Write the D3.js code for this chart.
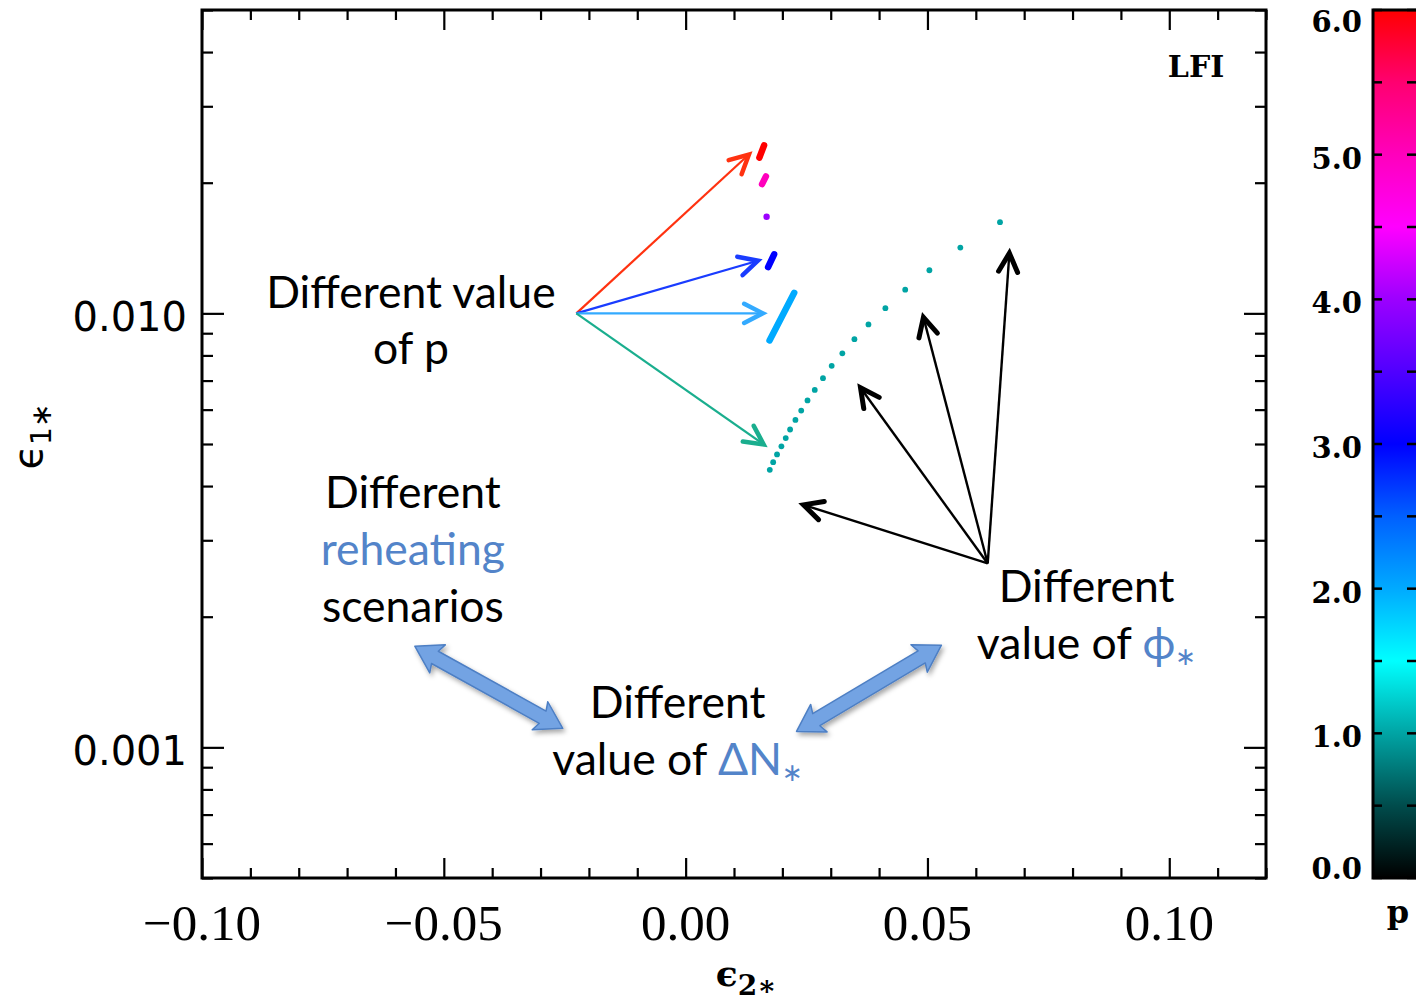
<!DOCTYPE html>
<html><head><meta charset="utf-8">
<script src="https://cdn.jsdelivr.net/npm/d3@7"></script>
<style>body{margin:0;background:#fff;} svg{display:block;}</style>
</head><body>
<svg id="chart" width="1416" height="1002"></svg>
<script>
// ---------------- data ----------------
const xMajorTicks = [-0.10, -0.05, 0.00, 0.05, 0.10];
const xTickLabels = ["\u22120.10", "\u22120.05", "0.00", "0.05", "0.10"];
const yMajorTicks = [0.001, 0.010];
const yTickLabels = ["0.001", "0.010"];
const cbMajorTicks = [0, 1, 2, 3, 4, 5, 6];
const cbTickLabels = ["0.0", "1.0", "2.0", "3.0", "4.0", "5.0", "6.0"];

// colour table (p -> colour)
const cmapStops  = [0, 0.5, 1.0, 1.5, 2.0, 2.5, 3.0, 3.5, 4.0, 4.5, 5.0, 5.5, 6.0];
const cmapColors = ["#000000", "#004c4c", "#00a4a4", "#00ffff", "#00aaff", "#0060ff", "#0000ff",
                    "#5000ff", "#9c00ff", "#ff00ff", "#ff00bc", "#ff0070", "#ff0000"];

// p = 1 : individual points (eps2*, eps1*)
const p1_eps2 = [0.0174, 0.0181, 0.0189, 0.0198, 0.0207, 0.0216, 0.0227, 0.0239, 0.0252, 0.0267,
                 0.0284, 0.0302, 0.0324, 0.0349, 0.0378, 0.0413, 0.0454, 0.0504, 0.0568, 0.0650];
const p1_eps1 = [0.00436, 0.00454, 0.00473, 0.00494, 0.00516, 0.00540, 0.00568, 0.00597, 0.00630, 0.00666,
                 0.00709, 0.00757, 0.00809, 0.00872, 0.00943, 0.01028, 0.01134, 0.01257, 0.01418, 0.01622];
// p = 2..6 : dense point sets (appear as short thick strokes)
const p2_eps2 = [0.01735, 0.02245]; const p2_eps1 = [0.00866, 0.01115];
const p3_eps2 = [0.01705, 0.01830]; const p3_eps1 = [0.01278, 0.01368];
const p4_eps2 = [0.01674];          const p4_eps1 = [0.01670];
const p5_eps2 = [0.01580, 0.01660]; const p5_eps1 = [0.01985, 0.02068];
const p6_eps2 = [0.01525, 0.01622]; const p6_eps1 = [0.02285, 0.02438];

// annotation arrows (data coordinates)
const pArrowOrigin = [-0.0226, 0.0100];
const pArrowTips   = [[0.01308, 0.02323], [0.01494, 0.01322], [0.01597, 0.0100], [0.01612, 0.00499]];
const pArrowColors = ["#ff3210", "#1a3cff", "#33aaff", "#1aae8e"];
const phiArrowOrigin = [0.06246, 0.002653];
const phiArrowTips   = [[0.02438, 0.00362], [0.03616, 0.006737], [0.04917, 0.00979], [0.06694, 0.01376]];
const blockArrows = [[[-0.0560, 0.001710], [-0.02541, 0.001106]], [[0.02293, 0.001088], [0.05289, 0.001720]]];

// ---------------- layout ----------------
const svg = d3.select("#chart");
const plot = {left: 202, top: 10, right: 1266, bottom: 878};
const cbar = {left: 1373, right: 1420};
const x = d3.scaleLinear().domain([-0.10, 0.12]).range([plot.left, plot.right]);
const y = d3.scaleLog().domain([0.0005, 0.05]).range([plot.bottom, plot.top]);
const cb = d3.scaleLinear().domain([0, 6]).range([plot.bottom, plot.top]);
const pColor = d3.scaleLinear().domain(cmapStops).range(cmapColors).interpolate(d3.interpolateRgb);

const defs = svg.append("defs");
const grad = defs.append("linearGradient").attr("id", "cbgrad")
  .attr("x1", 0).attr("y1", 1).attr("x2", 0).attr("y2", 0);
cmapStops.forEach((s, i) => grad.append("stop").attr("offset", s / 6).attr("stop-color", cmapColors[i]));
const filt = defs.append("filter").attr("id", "shadow").attr("x", "-20%").attr("y", "-20%").attr("width", "140%").attr("height", "140%");
filt.append("feDropShadow").attr("dx", 2).attr("dy", 3).attr("stdDeviation", 2.5).attr("flood-color", "#000").attr("flood-opacity", 0.35);

// ---------------- axes ----------------
const tickStroke = 2.2;
function drawTicks(g) { g.select(".domain").remove(); g.selectAll("line").attr("stroke", "#000").attr("stroke-width", tickStroke); g.selectAll("text").remove(); }
const xMinor = x.ticks(22).filter(v => !xMajorTicks.some(m => Math.abs(m - v) < 1e-9));
const yMinor = y.ticks().filter(v => !yMajorTicks.some(m => Math.abs(m - v) / m < 1e-6));

svg.append("g").attr("transform", `translate(0,${plot.bottom})`).call(d3.axisBottom(x).tickValues(xMajorTicks).tickSize(-20)).call(drawTicks);
svg.append("g").attr("transform", `translate(0,${plot.bottom})`).call(d3.axisBottom(x).tickValues(xMinor).tickSize(-10)).call(drawTicks);
svg.append("g").attr("transform", `translate(0,${plot.top})`).call(d3.axisTop(x).tickValues(xMajorTicks).tickSize(-20)).call(drawTicks);
svg.append("g").attr("transform", `translate(0,${plot.top})`).call(d3.axisTop(x).tickValues(xMinor).tickSize(-10)).call(drawTicks);
svg.append("g").attr("transform", `translate(${plot.left},0)`).call(d3.axisLeft(y).tickValues(yMajorTicks).tickSize(-22)).call(drawTicks);
svg.append("g").attr("transform", `translate(${plot.left},0)`).call(d3.axisLeft(y).tickValues(yMinor).tickSize(-11)).call(drawTicks);
svg.append("g").attr("transform", `translate(${plot.right},0)`).call(d3.axisRight(y).tickValues(yMajorTicks).tickSize(-22)).call(drawTicks);
svg.append("g").attr("transform", `translate(${plot.right},0)`).call(d3.axisRight(y).tickValues(yMinor).tickSize(-11)).call(drawTicks);

svg.append("rect").attr("x", plot.left).attr("y", plot.top)
  .attr("width", plot.right - plot.left).attr("height", plot.bottom - plot.top)
  .attr("fill", "none").attr("stroke", "#000").attr("stroke-width", 3);

// tick labels
svg.append("g").selectAll("text").data(xMajorTicks).join("text")
  .attr("x", d => x(d)).attr("y", plot.bottom + 62).attr("text-anchor", "middle")
  .attr("font-family", "'Liberation Serif', serif").attr("font-size", 51)
  .text((d, i) => xTickLabels[i]);
svg.append("g").selectAll("text").data(yMajorTicks).join("text")
  .attr("x", plot.left - 15).attr("y", d => y(d) + 18).attr("text-anchor", "end")
  .attr("font-family", "'DejaVu Sans', sans-serif").attr("font-size", 40)
  .text((d, i) => yTickLabels[i]);

// axis titles
const xt = svg.append("text").attr("x", x(0.0125)).attr("y", 986).attr("text-anchor", "middle")
  .attr("font-family", "'DejaVu Serif', serif").attr("font-weight", "bold").attr("font-size", 36);
xt.append("tspan").text("\u03F5");
xt.append("tspan").attr("dy", 9).attr("font-size", 28).text("2\u2217");
const yt = svg.append("text").attr("transform", `translate(42,${y(0.0052)}) rotate(-90)`).attr("text-anchor", "middle")
  .attr("font-family", "'DejaVu Sans', sans-serif").attr("font-size", 40);
yt.append("tspan").text("\u03F5");
yt.append("tspan").attr("dy", 9).attr("font-size", 28).text("1\u2217");

svg.append("text").attr("x", plot.right - 70).attr("y", plot.top + 67).attr("text-anchor", "middle")
  .attr("font-family", "'DejaVu Serif', serif").attr("font-weight", "bold").attr("font-size", 30).text("LFI");

// ---------------- data marks ----------------
const pts = p1_eps2.map((v, i) => ({e2: v, e1: p1_eps1[i]}));
svg.append("g").selectAll("circle").data(pts).join("circle")
  .attr("cx", d => x(d.e2)).attr("cy", d => y(d.e1)).attr("r", 2.9).attr("fill", pColor(1));

const segs = [
  {p: 2, e2: p2_eps2, e1: p2_eps1}, {p: 3, e2: p3_eps2, e1: p3_eps1}, {p: 4, e2: p4_eps2, e1: p4_eps1},
  {p: 5, e2: p5_eps2, e1: p5_eps1}, {p: 6, e2: p6_eps2, e1: p6_eps1}
];
const line = d3.line().x(d => x(d[0])).y(d => y(d[1]));
segs.forEach(s => {
  const coords = s.e2.map((v, i) => [v, s.e1[i]]);
  if (coords.length === 1) {
    svg.append("circle").attr("cx", x(coords[0][0])).attr("cy", y(coords[0][1])).attr("r", 3.2).attr("fill", pColor(s.p));
  } else {
    svg.append("path").attr("d", line(coords)).attr("fill", "none").attr("stroke", pColor(s.p))
      .attr("stroke-width", 6.5).attr("stroke-linecap", "round");
  }
});

// ---------------- annotation arrows ----------------
function arrow(g, from, to, color, shaftW, headW) {
  const x1 = x(from[0]), y1 = y(from[1]), x2 = x(to[0]), y2 = y(to[1]);
  const ang = Math.atan2(y1 - y2, x1 - x2), L = 21, a = 27 * Math.PI / 180;
  g.append("line").attr("x1", x1).attr("y1", y1).attr("x2", x2).attr("y2", y2)
    .attr("stroke", color).attr("stroke-width", shaftW);
  const p = [[x2 + L * Math.cos(ang + a), y2 + L * Math.sin(ang + a)], [x2, y2], [x2 + L * Math.cos(ang - a), y2 + L * Math.sin(ang - a)]];
  g.append("path").attr("d", d3.line()(p)).attr("fill", "none").attr("stroke", color)
    .attr("stroke-width", headW).attr("stroke-linecap", "round").attr("stroke-linejoin", "miter");
}
const ag = svg.append("g");
pArrowTips.forEach((t, i) => arrow(ag, pArrowOrigin, t, pArrowColors[i], 2.2, 4.5));
phiArrowTips.forEach(t => arrow(ag, phiArrowOrigin, t, "#000", 2.4, 5));

const bg = svg.append("g").attr("filter", "url(#shadow)");
blockArrows.forEach(([a, b]) => {
  const ax = x(a[0]), ay = y(a[1]), bx = x(b[0]), by = y(b[1]);
  const len = Math.hypot(bx - ax, by - ay), ux = (bx - ax) / len, uy = (by - ay) / len, nx = -uy, ny = ux;
  const w = 7, h = 16, L = 26;
  const P = (px, py, s, t) => [px + ux * s + nx * t, py + uy * s + ny * t];
  const poly = [[ax, ay], P(ax, ay, L, h), P(ax, ay, L - 3, w), P(bx, by, -L + 3, w), P(bx, by, -L, h), [bx, by],
                P(bx, by, -L, -h), P(bx, by, -L + 3, -w), P(ax, ay, L - 3, -w), P(ax, ay, L, -h)];
  bg.append("path").attr("d", d3.line()(poly) + "Z").attr("fill", "#73a3e3").attr("stroke", "#4d7fc4").attr("stroke-width", 1.5).attr("stroke-linejoin", "round");
});

// ---------------- annotation text ----------------
const K = "#000", B = "#5384c9";
const annotations = [
  {x: -0.0568, y: 0.01027, lh: 56, lines: [[["Different value", K]], [["of p", K]]]},
  {x: -0.0564, y: 0.00356, lh: 57, lines: [[["Different", K]], [["reheating", B]], [["scenarios", K]]]},
  {x: -0.00165, y: 0.00117, lh: 57, lines: [[["Different", K]], [["value of ", K], ["\u0394N", B], ["\u2217", B, true]]]},
  {x: 0.0829, y: 0.00216, lh: 57, lines: [[["Different", K]], [["value of ", K], ["\u03D5", B], ["\u2217", B, true]]]}
];
annotations.forEach(a => {
  a.lines.forEach((ln, i) => {
    const t = svg.append("text").attr("x", x(a.x)).attr("y", y(a.y) + i * a.lh).attr("text-anchor", "middle")
      .attr("font-family", "Lato, 'Open Sans', 'DejaVu Sans', sans-serif").attr("font-size", 44.5);
    ln.forEach(([s, c, sub]) => {
      const ts = t.append("tspan").attr("fill", c).text(s);
      if (sub) ts.attr("font-size", 25).attr("dy", 6);
    });
  });
});

// ---------------- colour bar ----------------
svg.append("rect").attr("x", cbar.left).attr("y", plot.top).attr("width", cbar.right - cbar.left)
  .attr("height", plot.bottom - plot.top).attr("fill", "url(#cbgrad)");
const cbAll = d3.range(0, 6.01, 0.5);
svg.append("g").selectAll("line").data(cbAll).join("line")
  .attr("x1", cbar.left).attr("x2", cbar.left + 9).attr("y1", d => cb(d)).attr("y2", d => cb(d))
  .attr("stroke", "#000").attr("stroke-width", 2.5);
svg.append("g").selectAll("line").data(cbAll).join("line")
  .attr("x1", 1407).attr("x2", 1416).attr("y1", d => cb(d)).attr("y2", d => cb(d))
  .attr("stroke", "#000").attr("stroke-width", 2.5);
svg.append("path").attr("d", `M${cbar.right + 2},${plot.top} H${cbar.left} V${plot.bottom} H${cbar.right + 2}`)
  .attr("fill", "none").attr("stroke", "#000").attr("stroke-width", 3);
svg.append("g").selectAll("text").data(cbMajorTicks).join("text")
  .attr("x", cbar.left - 11).attr("y", d => Math.min(Math.max(cb(d) + 14, plot.top + 22), plot.bottom + 1))
  .attr("text-anchor", "end").attr("font-family", "'DejaVu Serif', serif").attr("font-weight", "bold").attr("font-size", 29)
  .text((d, i) => cbTickLabels[i]);
svg.append("text").attr("x", 1398).attr("y", plot.bottom + 45).attr("text-anchor", "middle")
  .attr("font-family", "'DejaVu Serif', serif").attr("font-weight", "bold").attr("font-size", 32).text("p");
</script>
</body></html>
